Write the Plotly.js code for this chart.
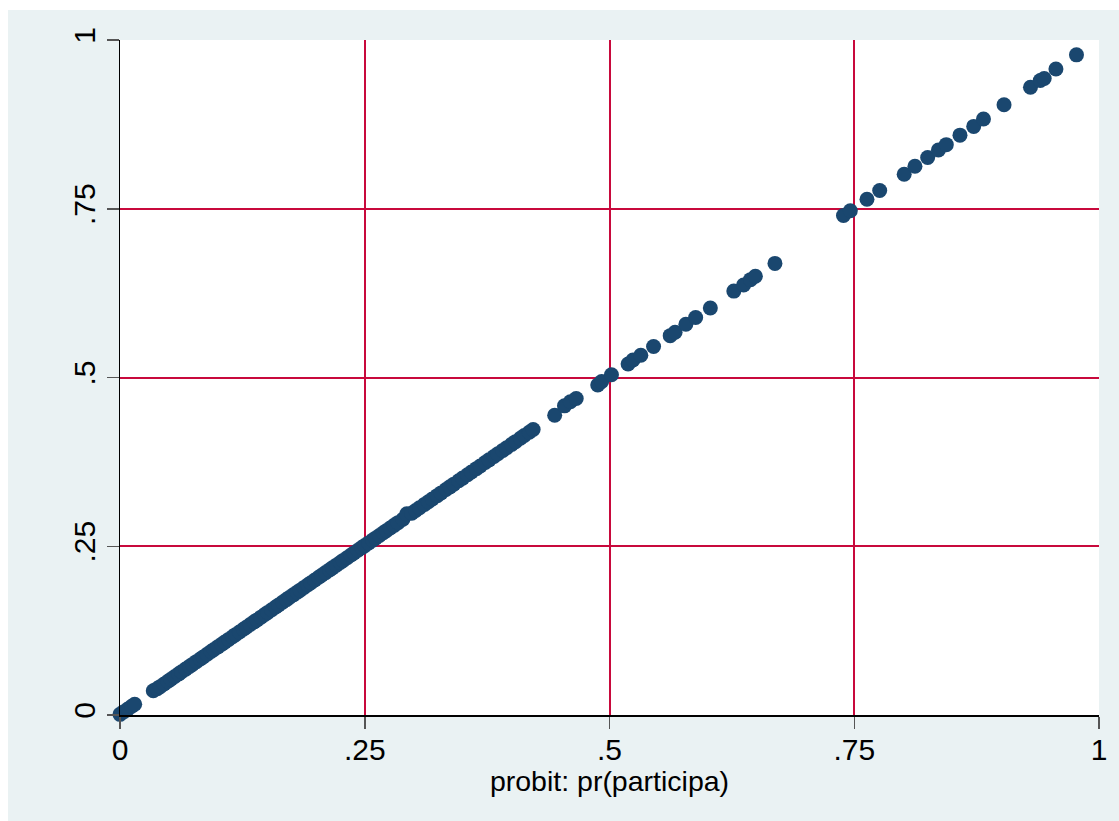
<!DOCTYPE html>
<html>
<head>
<meta charset="utf-8">
<script src="https://cdn.plot.ly/plotly-3.0.1.min.js"></script>
<style>
  html, body { margin: 0; padding: 0; background: #ffffff; }
  #chart { position: absolute; left: 8px; top: 10px; width: 1111px; height: 811px; }
</style>
</head>
<body>
<div id="chart"></div>
<script>
// Predicted probabilities: probit pr(participa) on x, second prediction on y
const probitPr = [
  0.000, 0.004, 0.008, 0.012, 0.015,
  0.034, 0.038, 0.041, 0.045, 0.049, 0.052, 0.056, 0.060, 0.063, 0.067,
  0.071, 0.074, 0.078, 0.082, 0.085, 0.089, 0.093, 0.096, 0.100, 0.104,
  0.107, 0.111, 0.115, 0.118, 0.122, 0.126, 0.129, 0.133, 0.137, 0.140,
  0.144, 0.148, 0.151, 0.155, 0.159, 0.162, 0.166, 0.170, 0.173, 0.177,
  0.181, 0.184, 0.188, 0.192, 0.195, 0.199, 0.203, 0.206, 0.210, 0.214,
  0.217, 0.221, 0.225, 0.228, 0.232, 0.236, 0.239, 0.243, 0.247, 0.250,
  0.254, 0.258, 0.261, 0.265, 0.269, 0.272, 0.276, 0.280, 0.284, 0.289,
  0.293, 0.298, 0.302, 0.306, 0.311, 0.315, 0.319, 0.324, 0.328, 0.333,
  0.337, 0.341, 0.346, 0.350, 0.355, 0.359, 0.364, 0.368, 0.373, 0.377,
  0.382, 0.386, 0.391, 0.395, 0.400, 0.404, 0.409, 0.413, 0.418, 0.422,
  0.444, 0.454, 0.460, 0.466,
  0.488, 0.492, 0.502,
  0.519, 0.524, 0.532, 0.545, 0.562, 0.567, 0.578, 0.588, 0.603,
  0.627, 0.637, 0.644, 0.649, 0.669,
  0.739, 0.746, 0.763, 0.776, 0.801, 0.812, 0.825, 0.836, 0.844, 0.858,
  0.872, 0.882, 0.903, 0.930, 0.940, 0.944, 0.956, 0.977
];
const otherPr = [
  0.001, 0.005, 0.009, 0.013, 0.016,
  0.036, 0.039, 0.042, 0.046, 0.050, 0.053, 0.057, 0.061, 0.064, 0.068,
  0.072, 0.075, 0.079, 0.083, 0.086, 0.090, 0.094, 0.097, 0.101, 0.105,
  0.108, 0.112, 0.116, 0.119, 0.123, 0.127, 0.130, 0.134, 0.138, 0.141,
  0.145, 0.149, 0.152, 0.156, 0.160, 0.163, 0.167, 0.171, 0.174, 0.178,
  0.182, 0.185, 0.189, 0.193, 0.196, 0.200, 0.204, 0.207, 0.211, 0.215,
  0.218, 0.222, 0.226, 0.229, 0.233, 0.237, 0.240, 0.244, 0.248, 0.251,
  0.255, 0.259, 0.262, 0.266, 0.270, 0.273, 0.277, 0.281, 0.285, 0.290,
  0.298, 0.299, 0.303, 0.307, 0.312, 0.316, 0.320, 0.325, 0.329, 0.334,
  0.338, 0.342, 0.347, 0.351, 0.356, 0.360, 0.365, 0.369, 0.374, 0.378,
  0.383, 0.387, 0.392, 0.396, 0.401, 0.405, 0.410, 0.414, 0.419, 0.423,
  0.444, 0.458, 0.464, 0.469,
  0.489, 0.494, 0.504,
  0.520, 0.526, 0.533, 0.546, 0.562, 0.567, 0.579, 0.589, 0.603,
  0.628, 0.637, 0.645, 0.650, 0.669,
  0.740, 0.747, 0.764, 0.777, 0.801, 0.813, 0.826, 0.837, 0.845, 0.859,
  0.872, 0.883, 0.904, 0.930, 0.940, 0.943, 0.957, 0.978
];
const tickVals = [0, 0.25, 0.5, 0.75, 1];
const tickText = ['0', '.25', '.5', '.75', '1'];

const fontFamily = 'Liberation Sans, Arial, sans-serif';
const gridRed = '#C8093C';

const trace = {
  type: 'scatter',
  mode: 'markers',
  x: probitPr,
  y: otherPr,
  cliponaxis: false,
  marker: { color: '#1A476F', size: 15, line: { width: 0 } },
  hoverinfo: 'x+y'
};

const axisCommon = {
  range: [0, 1],
  tickmode: 'array',
  tickvals: tickVals,
  ticktext: tickText,
  showgrid: true,
  gridcolor: gridRed,
  gridwidth: 2,
  zeroline: false,
  showline: true,
  linecolor: '#000000',
  linewidth: 1.5,
  mirror: false,
  ticks: 'outside',
  ticklen: 12,
  tickwidth: 1.5,
  tickcolor: '#555555',
  tickfont: { family: fontFamily, size: 30, color: '#000000' }
};

const layout = {
  width: 1111,
  height: 811,
  margin: { l: 112, r: 20, t: 30, b: 106 },
  paper_bgcolor: '#EAF2F3',
  plot_bgcolor: '#FFFFFF',
  showlegend: false,
  xaxis: Object.assign({}, axisCommon, {
    ticklabelstandoff: -5,
    title: { text: 'probit: pr(participa)', font: { family: fontFamily, size: 28.5, color: '#000000' }, standoff: 0 }
  }),
  yaxis: Object.assign({}, axisCommon, {
    tickangle: -90,
    ticklabelstandoff: 0
  })
};

Plotly.newPlot('chart', [trace], layout, { displayModeBar: false, staticPlot: true });
</script>
</body>
</html>
